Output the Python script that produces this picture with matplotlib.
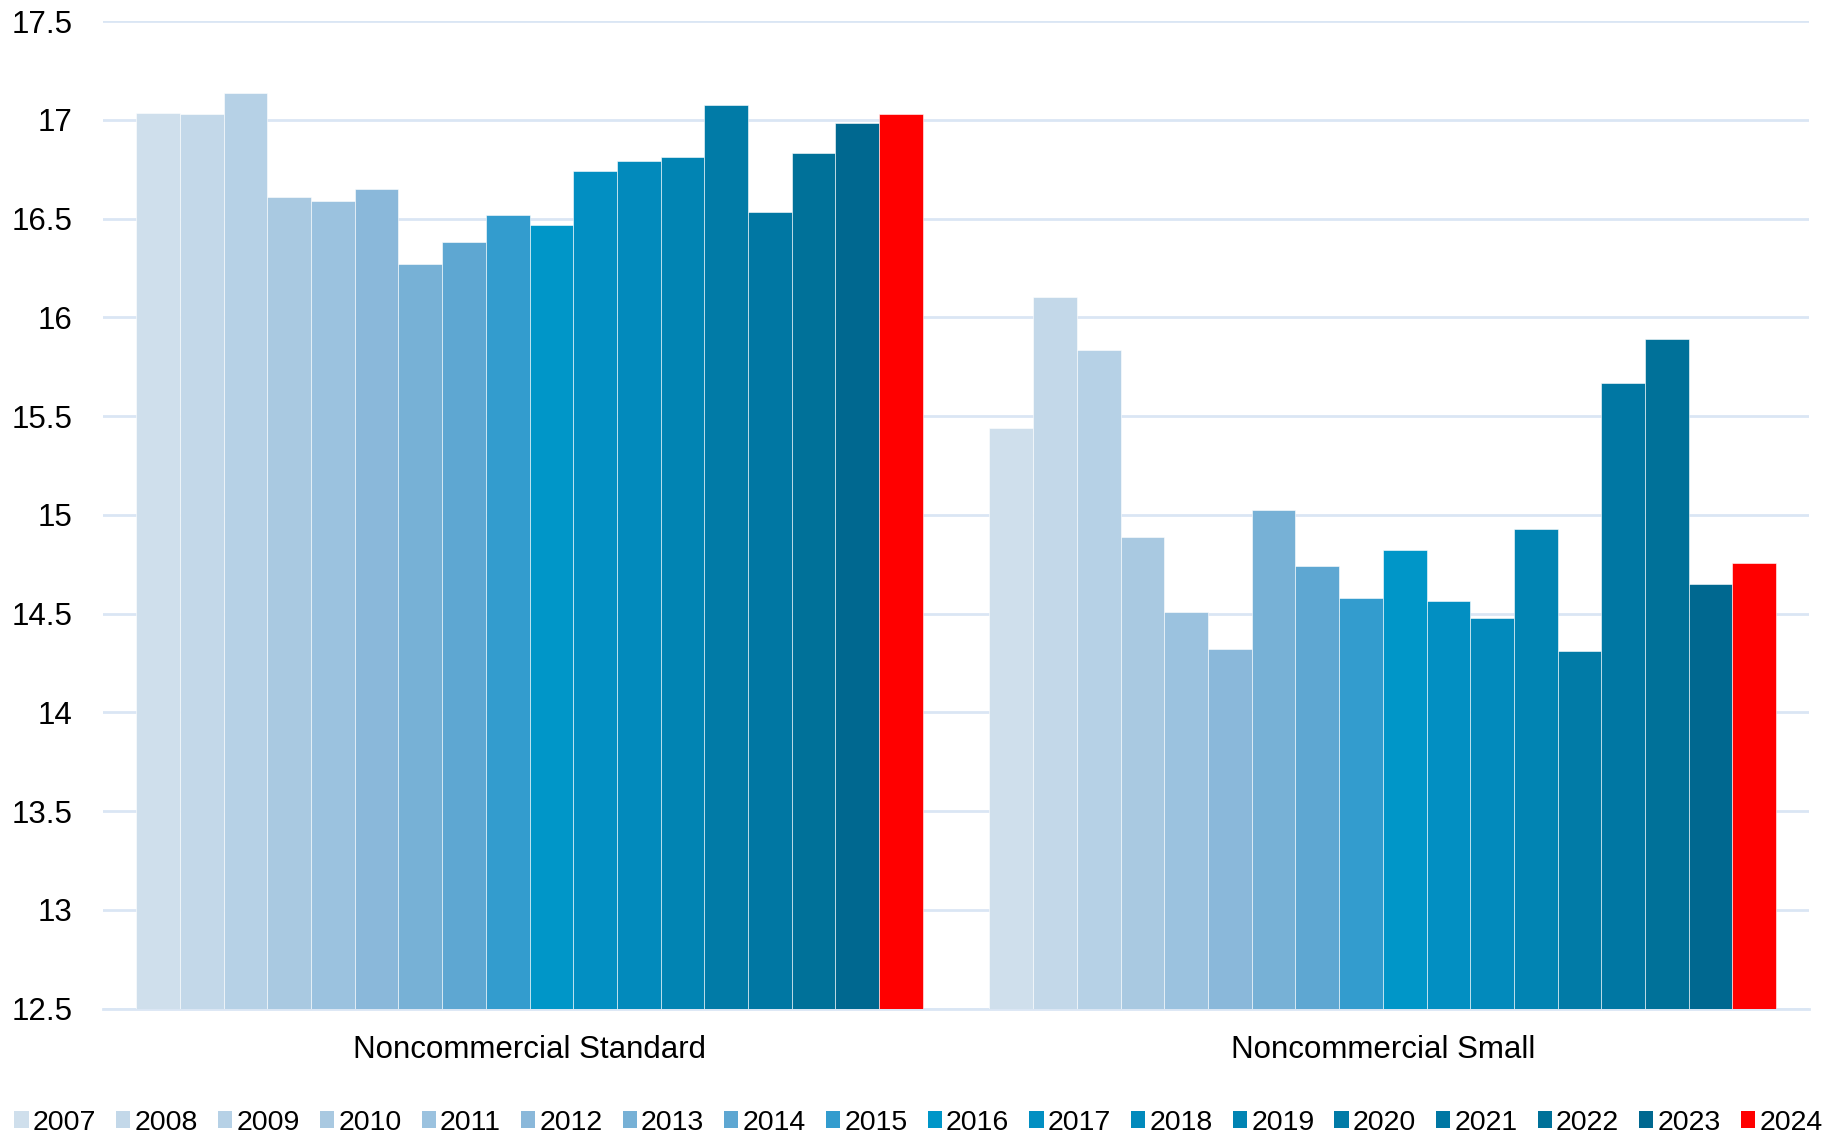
import numpy as np
import matplotlib.pyplot as plt
from matplotlib.patches import Patch

plt.rcParams['font.family'] = ['Liberation Sans', 'DejaVu Sans']

categories = ['Noncommercial Standard', 'Noncommercial Small']
years = [str(y) for y in range(2007, 2025)]

standard = [17.036, 17.027, 17.137, 16.61, 16.59, 16.65, 16.268, 16.38, 16.517,
            16.466, 16.739, 16.793, 16.813, 17.073, 16.534, 16.834, 16.985, 17.030]
small = [15.441, 16.105, 15.832, 14.89, 14.507, 14.32, 15.024, 14.741, 14.579,
         14.822, 14.564, 14.477, 14.926, 14.31, 15.667, 15.888, 14.648, 14.755]

colors = ['#CFDFEC', '#C3D8E9', '#B6D1E6', '#A9C9E1', '#9BC2DF', '#8AB8DA',
          '#77B1D6', '#5EA7D2', '#339CCE', '#0096C8', '#028FC2', '#028ABC',
          '#0184B3', '#017BA7', '#0077A3', '#007199', '#006890', '#FF0000']

fig = plt.figure(figsize=(18.37, 11.37), dpi=100)
ax = fig.add_axes([0.056, 0.113, 0.929, 0.8685])

base = 12.5
n = len(years)
group_w = 0.922
w = group_w / n
x = np.arange(len(categories))
for i, yr in enumerate(years):
    vals = [standard[i] - base, small[i] - base]
    ax.bar(x - group_w / 2 + (i + 0.5) * w, vals, w, bottom=base,
           color=colors[i], edgecolor='white', linewidth=0.4, zorder=3)

ax.set_ylim(12.5, 17.5)
ax.set_xlim(-0.5, 1.5)
ax.set_yticks(np.arange(12.5, 17.6, 0.5))
ax.set_yticklabels(['12.5', '13', '13.5', '14', '14.5', '15', '15.5', '16', '16.5', '17', '17.5'])
ax.set_xticks(x)
ax.set_xticklabels(categories)
ax.grid(axis='y', color='#DAE6F4', linewidth=2, zorder=0)
for s in ['top', 'right', 'left']:
    ax.spines[s].set_visible(False)
ax.spines['bottom'].set_color('#DAE6F4')
ax.spines['bottom'].set_linewidth(2)
ax.tick_params(axis='both', length=0, labelsize=22.5)
ax.tick_params(axis='y', pad=22)
ax.tick_params(axis='x', pad=19)

handles = [Patch(facecolor=c, edgecolor='none') for c in colors]
fig.legend(handles, years, loc='lower center', bbox_to_anchor=(0.5, -0.004), ncol=n,
           frameon=False, fontsize=20.5, handlelength=0.5, handleheight=0.55,
           handletextpad=0.15, columnspacing=0.7, borderaxespad=0, borderpad=0.2)

fig.savefig('out.png', dpi=100, facecolor='white')
